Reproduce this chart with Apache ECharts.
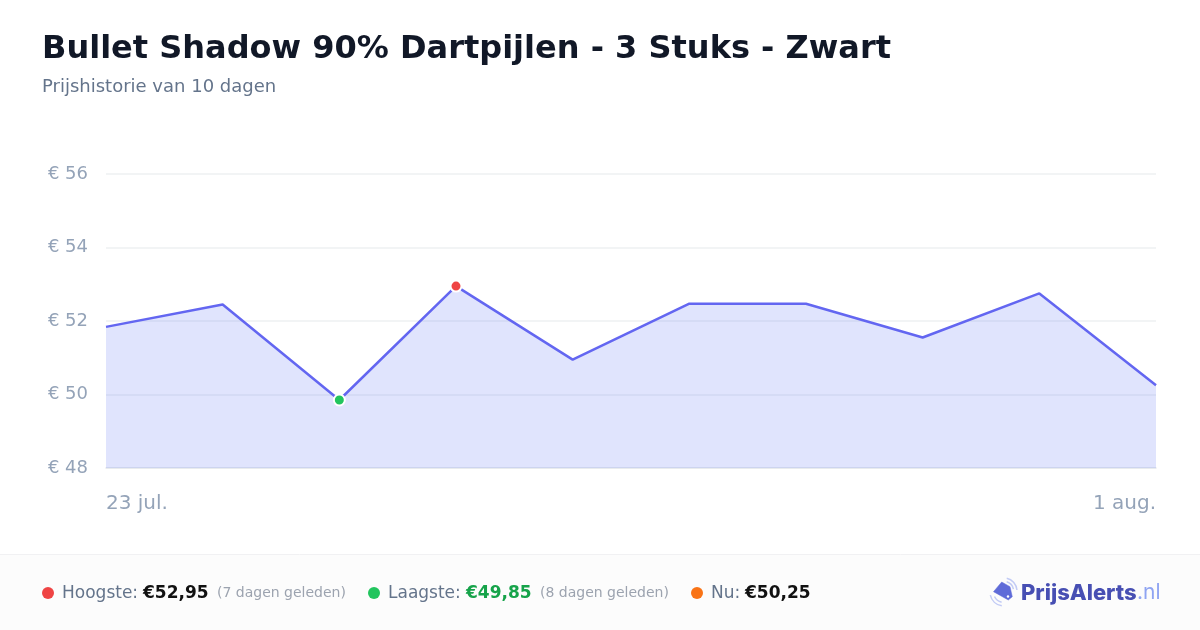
<!DOCTYPE html>
<html><head><meta charset="utf-8">
<style>html,body{margin:0;padding:0;background:#fff}#c{width:1200px;height:630px}</style>
<script src="https://cdn.jsdelivr.net/npm/echarts@6/dist/echarts.min.js"></script>
</head><body><div id="c"></div>
<script>
const titleText = 'Bullet Shadow 90% Dartpijlen - 3 Stuks - Zwart';
const subtitleText = 'Prijshistorie van 10 dagen';
const categories = ['23 jul.','24 jul.','25 jul.','26 jul.','27 jul.','28 jul.','29 jul.','30 jul.','31 jul.','1 aug.'];
const prices = [51.84,52.45,49.85,52.95,50.95,52.47,52.47,51.55,52.75,50.25];
const yTicks = [48,50,52,54,56];
const F = '"DejaVu Sans", sans-serif';
const chart = echarts.init(document.getElementById('c'), null, {renderer:'canvas'});
const hi = prices.indexOf(Math.max(...prices)), lo = prices.indexOf(Math.min(...prices));
const dot = c => ({symbol:'circle',symbolSize:11,itemStyle:{color:c,borderColor:'#fff',borderWidth:2}});
const seriesData = prices.map((v,i)=> i===hi ? {value:v,...dot('#ef4444')} : i===lo ? {value:v,...dot('#22c55e')} : {value:v,symbol:'none'});
function t(x,y,text,size,color,weight,align){return {type:'text',z:10,x,y,style:{text,font:(weight||'normal')+' '+size+'px '+F,fill:color,textAlign:align||'left',textVerticalAlign:'middle'}};}
const arc = (cx,cy,r,a,b) => ({type:'arc',z:10,shape:{cx,cy,r,startAngle:a,endAngle:b,clockwise:true},style:{fill:null,stroke:'#c2cbf5',lineWidth:1.5}});
chart.setOption({
  animation:false,
  backgroundColor:'#fff',
  grid:{left:106,right:44,top:174,height:294,containLabel:false},
  xAxis:{type:'category',data:categories,boundaryGap:false,
    axisLine:{show:true,lineStyle:{color:'#e5e7eb',width:1.5}},axisTick:{show:false},splitLine:{show:false},
    axisLabel:{color:'#94a3b8',fontSize:20,fontFamily:F,margin:26,interval:(i)=>i===0||i===categories.length-1,alignMinLabel:'left',alignMaxLabel:'right',showMinLabel:true,showMaxLabel:true}},
  yAxis:{type:'value',min:yTicks[0],max:yTicks[yTicks.length-1],interval:2,
    axisLine:{show:false},axisTick:{show:false},
    splitLine:{lineStyle:{color:'#eef0f2',width:1.5}},
    axisLabel:{color:'#94a3b8',fontSize:18,fontFamily:F,margin:18,padding:[4,0,0,0],formatter:v=>'€ '+v}},
  series:[{type:'line',data:seriesData,smooth:false,showSymbol:true,showAllSymbol:true,
    lineStyle:{color:'#6366f1',width:2.5},itemStyle:{color:'#6366f1'},
    areaStyle:{color:'#6478f3',opacity:0.2},z:3}],
  graphic:[
    {type:'rect',z:1,shape:{x:-2,y:554.5,width:1204,height:78},style:{fill:'#fcfcfc',stroke:'#f1f1f3',lineWidth:1}},
    t(42,49.5,titleText,32,'#111827','bold'),
    t(42,87.5,subtitleText,18,'#64748b'),
    {type:'circle',z:10,shape:{cx:48,cy:593,r:6},style:{fill:'#ef4444'}},
    t(62,593.5,'Hoogste:',17,'#64748b'),
    t(143,593.5,'€52,95',17,'#111111','bold'),
    t(217,593.5,'(7 dagen geleden)',14,'#9ca3af'),
    {type:'circle',z:10,shape:{cx:374,cy:593,r:6},style:{fill:'#22c55e'}},
    t(388,593.5,'Laagste:',17,'#64748b'),
    t(466,593.5,'€49,85',17,'#16a34a','bold'),
    t(540,593.5,'(8 dagen geleden)',14,'#9ca3af'),
    {type:'circle',z:10,shape:{cx:697,cy:593,r:6},style:{fill:'#f97316'}},
    t(711,593.5,'Nu:',17,'#64748b'),
    t(745,593.5,'€50,25',17,'#111111','bold'),
    {type:'polygon',z:10,shape:{points:[[1001.7,582],[1010,586.7],[1012.3,596.7],[1008.3,600],[993.5,591.7]]},style:{fill:'#5f6bd8',stroke:'#5f6bd8',lineWidth:0.5,lineJoin:'round'}},
    {type:'circle',z:11,shape:{cx:1008,cy:596.5,r:1.2},style:{fill:'#fff'}},
    arc(1004,591,13,-1.36,-0.08), arc(1004,591,9.6,-1.29,-0.2),
    arc(1004,592,14,1.73,2.92), arc(1004,592,10.5,1.8,2.7),
    {type:'text',z:10,x:1021,y:593,style:{text:'PrijsAlerts',font:'800 22px Inter, sans-serif',fill:'#474fb3',textVerticalAlign:'middle'}},
    {type:'text',z:10,x:1137,y:593,style:{text:'.nl',font:'normal 21px Inter, sans-serif',fill:'#8fa4f2',textVerticalAlign:'middle'}}
  ]
});
</script></body></html>
